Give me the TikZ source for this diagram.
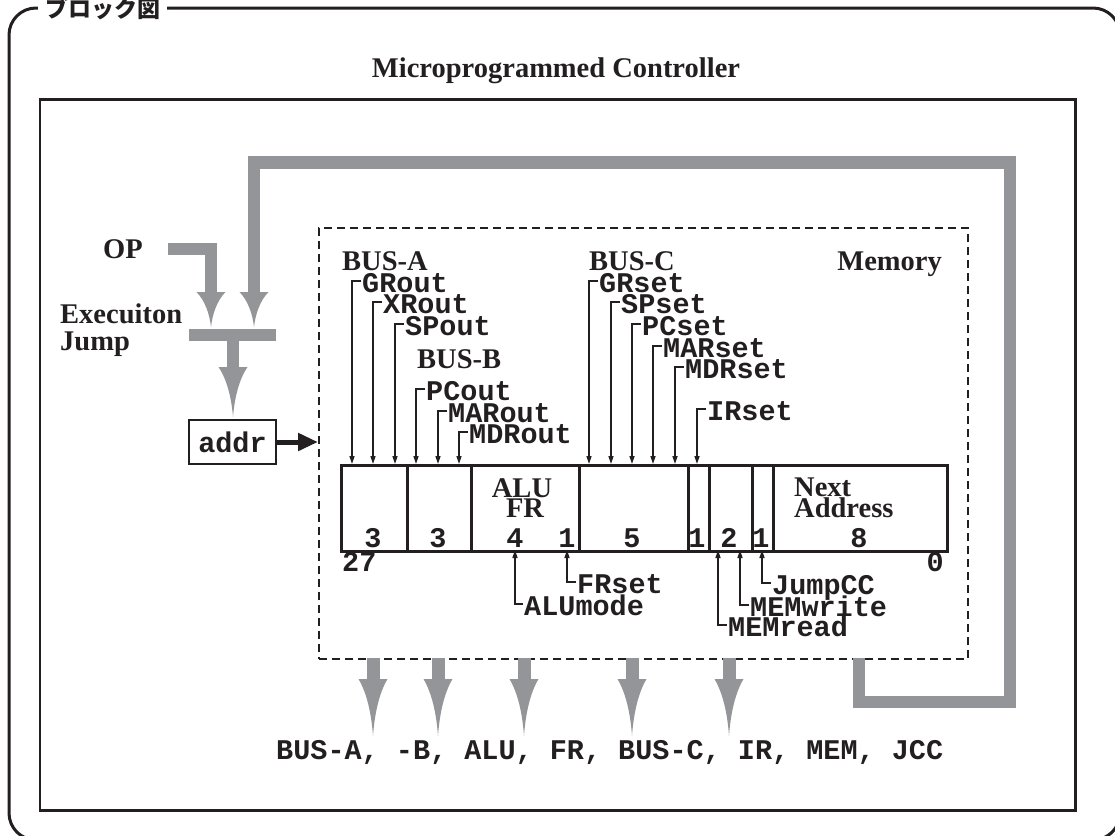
\documentclass[tikz,border=0pt]{standalone}
\usepackage{fontspec}
\usetikzlibrary{arrows.meta}
\newfontfamily\serifb{Liberation Serif}
\newfontfamily\monob{Liberation Mono}
\newfontfamily\cjkjp{Noto Sans CJK JP}
\definecolor{ink}{RGB}{35,31,32}
\definecolor{busgray}{RGB}{147,149,152}
\tikzset{
  sl/.style={font=\serifb\bfseries\fontsize{28.5}{30}\selectfont, text=ink, inner sep=0pt, anchor=base west},
  ml/.style={font=\monob\bfseries\fontsize{28.5}{30}\selectfont, text=ink, inner sep=0pt, anchor=base west},
  sig/.style={draw=ink, line width=1.5pt, -{Triangle[length=8pt,width=5pt]}},
  bus/.style={draw=busgray, line width=12.5pt, line join=miter},
  cell/.style={draw=ink, line width=2.5pt, minimum height=86pt, anchor=north west, inner sep=0pt},
  pics/ghead/.style={code={\fill[busgray] (-14.5,0) .. controls (-6,#1*0.25) and (-1.5,#1*0.62) .. (0,#1) .. controls (1.5,#1*0.62) and (6,#1*0.25) .. (14.5,0) -- cycle;}},
}
\begin{document}
\begin{tikzpicture}[x=1pt,y=-1pt]
\useasboundingbox (0,0) rectangle (1115,835);
% outer frame
\draw[ink, line width=3pt, rounded corners=27pt] (9,8) rectangle (1120,840);
\node[font=\cjkjp\bfseries\fontsize{23}{23}\selectfont, text=ink, fill=white, inner xsep=7pt, inner ysep=0pt, anchor=base west] (tag) at (38,17) {ブロック図};
% controller box
\node[draw=ink, line width=2.5pt, minimum width=1035.5pt, minimum height=711pt, anchor=north west, inner sep=0pt] (ctrl) at (38.5,98) {};
\node[sl, anchor=base] (title) at (556,77) {Microprogrammed Controller};
% memory box
\node[draw=ink, line width=2pt, dash pattern=on 8pt off 5pt, minimum width=649pt, minimum height=431pt, anchor=north west, inner sep=0pt] (mem) at (318,227) {};
\node[sl, anchor=base east] (memlbl) at (942,270) {Memory};
% left labels
\node[sl] (op) at (103,258) {OP};
\node[sl] (exe) at (60,323) {Execuiton};
\node[sl] (jump) at (60,350) {Jump};
% gray buses
\draw[bus] (168,249) -| (211,293);
\pic at (211,292) {ghead=35};
\draw[bus] (859,658) |- (1010,702) |- (254,162.5) -- (254,293);
\pic at (254,292) {ghead=35};
\fill[busgray] (189,329) rectangle (276,341);
\draw[bus] (233,341) -- (233,368);
\pic at (233,367) {ghead=50};
% addr
\node[draw=ink, line width=2.5pt, minimum width=87pt, minimum height=44pt, inner sep=0pt, font=\monob\bfseries\fontsize{28.5}{30}\selectfont, text=ink] (addr) at (232.5,442) {addr};
\draw[ink, line width=5pt, -{Triangle[length=20pt,width=17pt]}] (addr.east) -- (mem.west |- addr.east);
% register cells
\node[cell, minimum width=66pt] (c1) at (340,464) {};
\node[cell, minimum width=64pt] (c2) at (406,464) {};
\node[cell, minimum width=108pt] (c3) at (470,464) {};
\node[cell, minimum width=109pt] (c4) at (578,464) {};
\node[cell, minimum width=21pt] (c5) at (687,464) {};
\node[cell, minimum width=43pt] (c6) at (708,464) {};
\node[cell, minimum width=21pt] (c7) at (751,464) {};
\node[cell, minimum width=174pt] (c8) at (772,464) {};
\foreach \x/\t [count=\i] in {373/3,438/3,515/4,567/1,632/5,697/1,729/2,761/1,859/8}
  \node[ml, anchor=base] (num\i) at (\x,547.5) {\t};
\node[sl, anchor=base] (alu) at (522,497) {ALU};
\node[sl, anchor=base] (fr) at (525,517) {FR};
\node[sl] (nxt) at (794,496) {Next};
\node[sl] (nadr) at (794,517) {Address};
\node[ml] (b27) at (342,571) {27};
\node[ml, anchor=base east] (b0) at (944,571) {0};
% group headings
\node[sl] (busa) at (342,270) {BUS-A};
\node[sl] (busb) at (417,368) {BUS-B};
\node[sl] (busc) at (589,270) {BUS-C};
% top signals
\foreach \n/\x/\lx/\y in {GRout/352/362/292, XRout/373/383/313, SPout/395/405/335, PCout/416/426/400, MARout/438/448/422, MDRout/459/469/443, GRset/589/599/292, SPset/611/621/313, PCset/632/642/335, MARset/653/663/357, MDRset/675/685/378, IRset/697/707/420}{
  \node[ml] (\n) at (\lx,\y) {\n};
  \coordinate (t\n) at (\x,464);
  \draw[sig] ([shift={(-1,-11)}]\n.base west) -| (t\n);
}
% bottom signals
\foreach \n/\x/\lx/\y in {ALUmode/515/524/615, FRset/567/577/593, MEMread/718/728/636, MEMwrite/740/750/616, JumpCC/762/772/594}{
  \node[ml] (\n) at (\lx,\y) {\n};
  \coordinate (t\n) at (\x,550);
  \draw[sig] ([shift={(-1,-11)}]\n.base west) -| (t\n);
}
% output buses
\foreach \x in {373,438,524,632,729}{
  \draw[bus, line width=13pt] (\x,658) -- (\x,680);
  \pic at (\x,679) {ghead=57};
}
\node[ml] (outs) at (276,759) {BUS-A, -B, ALU, FR, BUS-C, IR, MEM, JCC};
\end{tikzpicture}
\end{document}
